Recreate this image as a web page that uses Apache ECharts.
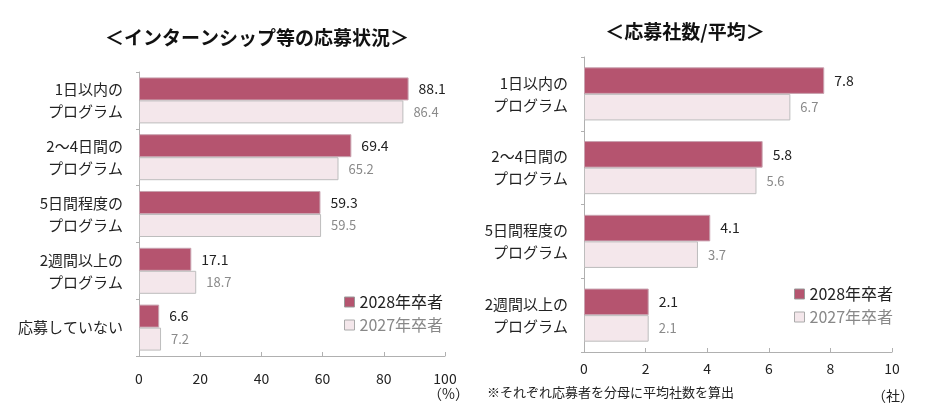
<!DOCTYPE html>
<html>
<head>
    <meta charset="utf-8">
    <title>インターンシップ等の応募状況</title>
    <script src="https://cdn.jsdelivr.net/npm/echarts@6/dist/echarts.min.js"></script>
    <style>
        html, body { margin: 0; padding: 0; background: #fff; }
        #chart { width: 946px; height: 418px; }
    </style>
</head>
<body>
    <div id="chart"></div>
    <script type="text/javascript">
        // 左：インターンシップ等の応募状況（%）
        const leftCategories = ['1日以内の\nプログラム', '2～4日間の\nプログラム', '5日間程度の\nプログラム', '2週間以上の\nプログラム', '応募していない'];
        const left2028 = [88.1, 69.4, 59.3, 17.1, 6.6];
        const left2027 = [86.4, 65.2, 59.5, 18.7, 7.2];

        // 右：応募社数/平均（社）
        const rightCategories = ['1日以内の\nプログラム', '2～4日間の\nプログラム', '5日間程度の\nプログラム', '2週間以上の\nプログラム'];
        const right2028 = [7.8, 5.8, 4.1, 2.1];
        const right2027 = [6.7, 5.6, 3.7, 2.1];

        const seriesNames = ['2028年卒者', '2027年卒者'];

        const FONT = '"Noto Sans CJK JP", sans-serif';
        const DARK = '#b5546f';
        const LIGHT = '#f4e7eb';

        const chart = echarts.init(document.getElementById('chart'));

        // バー系列を作る（gridIndexごと）
        function makeSeries(idx, d28, d27, catGap) {
            return [{
                name: seriesNames[0],
                type: 'bar',
                xAxisIndex: idx,
                yAxisIndex: idx,
                data: d28,
                barGap: '0%',
                barCategoryGap: catGap,
                itemStyle: { color: DARK, borderColor: '#c9a3b0', borderWidth: 1 },
                label: { show: true, position: 'right', distance: 10, color: '#222', fontSize: 14, fontFamily: FONT }
            }, {
                name: seriesNames[1],
                type: 'bar',
                xAxisIndex: idx,
                yAxisIndex: idx,
                data: d27,
                barGap: '0%',
                barCategoryGap: catGap,
                itemStyle: { color: LIGHT, borderColor: '#bdbdbd', borderWidth: 1 },
                label: { show: true, position: 'right', distance: 10, color: '#8a8a8a', fontSize: 13, fontFamily: FONT }
            }];
        }

        function makeLegend(left, top) {
            return {
                left: left,
                top: top,
                orient: 'vertical',
                icon: 'rect',
                itemWidth: 10,
                itemHeight: 10,
                itemGap: 7,
                textStyle: { fontSize: 16, fontFamily: FONT },
                data: [
                    { name: seriesNames[0], itemStyle: { borderColor: '#999', borderWidth: 1 }, textStyle: { color: '#222' } },
                    { name: seriesNames[1], itemStyle: { borderColor: '#aaa', borderWidth: 1 }, textStyle: { color: '#888' } }
                ]
            };
        }

        const axisLine = { show: true, lineStyle: { color: '#b0b0b0', width: 1 } };

        const option = {
            animation: false,
            textStyle: { fontFamily: FONT },
            title: [{
                text: '＜インターンシップ等の応募状況＞',
                left: 252, top: 23, textAlign: 'center',
                textStyle: { fontSize: 19, fontWeight: 'bold', color: '#111', fontFamily: FONT }
            }, {
                text: '＜応募社数/平均＞',
                left: 680, top: 17, textAlign: 'center',
                textStyle: { fontSize: 19, fontWeight: 'bold', color: '#111', fontFamily: FONT }
            }],
            legend: [makeLegend(339, 289), makeLegend(789, 281)],
            grid: [
                { left: 139, right: 501, top: 72, height: 284 },
                { left: 584, right: 54, top: 57, height: 295 }
            ],
            xAxis: [{
                gridIndex: 0, type: 'value', min: 0, max: 100, interval: 20,
                axisLine: axisLine,
                axisTick: { show: true, inside: true, length: 4, lineStyle: { color: '#b0b0b0' } },
                splitLine: { show: false },
                axisLabel: { color: '#222', fontSize: 14, margin: 16, fontFamily: FONT }
            }, {
                gridIndex: 1, type: 'value', min: 0, max: 10, interval: 2,
                axisLine: axisLine,
                axisTick: { show: true, inside: true, length: 4, lineStyle: { color: '#b0b0b0' } },
                splitLine: { show: false },
                axisLabel: { color: '#222', fontSize: 14, margin: 10, fontFamily: FONT }
            }],
            yAxis: [{
                gridIndex: 0, type: 'category', inverse: true, data: leftCategories,
                axisLine: axisLine,
                axisTick: { show: true, length: 3, lineStyle: { color: '#b0b0b0' } },
                axisLabel: { color: '#222', fontSize: 15, lineHeight: 22, margin: 16, fontFamily: FONT }
            }, {
                gridIndex: 1, type: 'category', inverse: true, data: rightCategories,
                axisLine: axisLine,
                axisTick: { show: true, length: 3, lineStyle: { color: '#b0b0b0' } },
                axisLabel: { color: '#222', fontSize: 15, lineHeight: 22, margin: 16, fontFamily: FONT }
            }],
            series: makeSeries(0, left2028, left2027, '19%').concat(makeSeries(1, right2028, right2027, '28%')),
            graphic: [
                { type: 'text', left: 428, top: 387, style: { text: '（%）', fontSize: 14, fill: '#222', fontFamily: FONT } },
                { type: 'text', left: 872, top: 389, style: { text: '（社）', fontSize: 14, fill: '#222', fontFamily: FONT } },
                { type: 'text', left: 487, top: 386, style: { text: '※それぞれ応募者を分母に平均社数を算出', fontSize: 13, fill: '#222', fontFamily: FONT } }
            ]
        };

        chart.setOption(option);
    </script>
</body>
</html>
